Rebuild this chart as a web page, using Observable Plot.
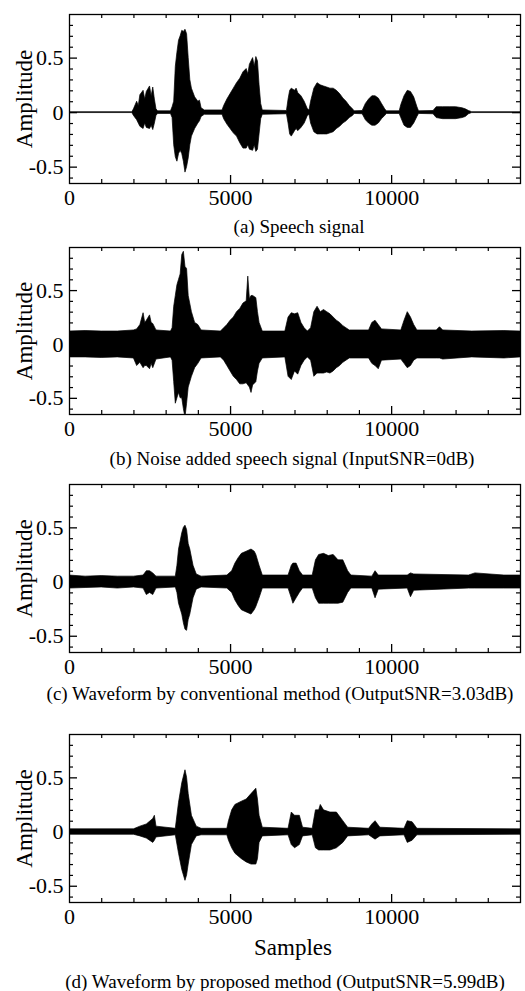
<!DOCTYPE html>
<html><head><meta charset="utf-8">
<script src="https://cdn.jsdelivr.net/npm/d3@7"></script>
<script src="https://cdn.jsdelivr.net/npm/@observablehq/plot@0.6"></script>
<style>
body{margin:0;background:#fff;}
#chart{width:525px;height:991px;position:relative;overflow:hidden;background:#fff;}
#chart svg{display:block;}
#chart svg, #chart svg g, #chart svg text{font-family:'Liberation Serif','Times New Roman',Times,serif !important;font-variant:normal !important;}
</style></head><body><div id="chart"></div>
<script>
// ---------- tick values / labels ----------
const xTickLabels = [0, 5000, 10000];
const xMinorTicks = [1000, 2000, 3000, 4000, 6000, 7000, 8000, 9000, 11000, 12000, 13000];
const xMajorTicks = [5000, 10000];
const yTickLabels = [-0.5, 0, 0.5];
const yMinorTicks = [-0.6, -0.4, -0.3, -0.2, -0.1, 0.1, 0.2, 0.3, 0.4, 0.6, 0.7, 0.8];
const yMajorTicks = [-0.5, 0, 0.5];
const yLabel = "Amplitude";
const xLabel = "Samples";
const captions = [
  "(a) Speech signal",
  "(b) Noise added speech signal (InputSNR=0dB)",
  "(c) Waveform by conventional method (OutputSNR=3.03dB)",
  "(d) Waveform by proposed method (OutputSNR=5.99dB)"
];

// ---------- (a) Speech signal: envelope (upper / lower) ----------
const aSamples = [0,1950,2000,2100,2150,2200,2300,2350,2400,2500,2550,2600,2650,2700,2750,3150,3200,3250,3300,3350,3400,3450,3500,3550,3600,3650,3700,3750,3800,3900,4000,4050,4100,4200,4750,4800,4900,5000,5100,5200,5300,5400,5500,5550,5600,5700,5750,5800,5850,5900,5950,6000,6750,6800,6850,6900,7000,7050,7100,7200,7300,7400,7450,7500,7600,7700,7800,7900,8000,8100,8200,8300,8400,8500,8600,8700,8800,8850,9100,9200,9300,9400,9500,9600,9700,9800,9850,10250,10300,10400,10500,10600,10700,10800,10850,11300,11400,11600,11800,12000,12200,12300,12400,12500,14000];
const aUpper = [0.004,0.004,0.03,0.1,0.06,0.16,0.2,0.12,0.19,0.24,0.15,0.23,0.12,0.03,0.012,0.012,0.05,0.1,0.42,0.55,0.66,0.7,0.75,0.74,0.76,0.72,0.5,0.3,0.22,0.14,0.1,0.11,0.04,0.02,0.02,0.06,0.12,0.17,0.22,0.27,0.31,0.37,0.4,0.35,0.44,0.5,0.42,0.51,0.47,0.25,0.08,0.02,0.015,0.12,0.2,0.22,0.2,0.22,0.18,0.15,0.1,0.03,0.02,0.1,0.22,0.27,0.25,0.24,0.23,0.22,0.22,0.2,0.17,0.13,0.1,0.06,0.03,0.012,0.015,0.08,0.12,0.15,0.15,0.13,0.08,0.03,0.012,0.012,0.07,0.15,0.2,0.19,0.14,0.05,0.012,0.015,0.05,0.05,0.05,0.05,0.04,0.03,0.015,0.004,0.004];
const aLower = [-0.004,-0.004,-0.03,-0.07,-0.1,-0.13,-0.15,-0.1,-0.14,-0.15,-0.12,-0.16,-0.1,-0.03,-0.012,-0.012,-0.05,-0.3,-0.41,-0.45,-0.38,-0.35,-0.38,-0.45,-0.55,-0.5,-0.42,-0.3,-0.22,-0.15,-0.1,-0.08,-0.04,-0.02,-0.02,-0.06,-0.11,-0.15,-0.19,-0.22,-0.28,-0.33,-0.33,-0.3,-0.34,-0.35,-0.3,-0.36,-0.34,-0.2,-0.06,-0.02,-0.015,-0.1,-0.2,-0.22,-0.17,-0.15,-0.17,-0.14,-0.1,-0.03,-0.02,-0.1,-0.18,-0.2,-0.2,-0.2,-0.2,-0.19,-0.18,-0.15,-0.13,-0.1,-0.08,-0.05,-0.03,-0.012,-0.015,-0.07,-0.1,-0.12,-0.12,-0.1,-0.06,-0.03,-0.012,-0.012,-0.05,-0.12,-0.14,-0.14,-0.1,-0.04,-0.012,-0.015,-0.05,-0.06,-0.06,-0.06,-0.05,-0.04,-0.015,-0.004,-0.004];

// ---------- (b) Noise added speech signal ----------
const bSamples = [0,500,1000,1500,2000,2100,2200,2300,2350,2400,2500,2550,2600,2700,3150,3200,3250,3300,3350,3400,3450,3500,3550,3600,3650,3700,3800,3900,4000,4100,4700,4800,4900,5000,5100,5200,5300,5400,5500,5550,5600,5650,5700,5800,5850,5900,6000,6700,6800,6900,7000,7100,7200,7300,7400,7500,7600,7700,7800,7900,8000,8100,8200,8300,8400,8500,8700,9300,9400,9500,9600,9700,10300,10400,10500,10600,10700,10800,11400,11500,11600,12500,13500,14000];
const bUpper = [0.12,0.125,0.12,0.12,0.13,0.14,0.18,0.29,0.2,0.22,0.27,0.2,0.19,0.13,0.12,0.15,0.35,0.45,0.55,0.6,0.65,0.83,0.86,0.72,0.7,0.45,0.3,0.2,0.18,0.13,0.12,0.15,0.18,0.22,0.25,0.3,0.33,0.38,0.4,0.63,0.42,0.45,0.45,0.43,0.3,0.2,0.12,0.12,0.25,0.29,0.28,0.29,0.2,0.15,0.12,0.15,0.3,0.35,0.3,0.32,0.3,0.28,0.25,0.22,0.2,0.17,0.13,0.13,0.2,0.22,0.18,0.14,0.13,0.22,0.3,0.25,0.18,0.13,0.13,0.16,0.13,0.12,0.125,0.12];
const bLower = [-0.12,-0.12,-0.125,-0.12,-0.13,-0.2,-0.17,-0.22,-0.2,-0.2,-0.23,-0.18,-0.22,-0.14,-0.12,-0.15,-0.35,-0.55,-0.5,-0.45,-0.5,-0.5,-0.6,-0.68,-0.55,-0.4,-0.3,-0.22,-0.18,-0.13,-0.12,-0.15,-0.2,-0.25,-0.3,-0.33,-0.37,-0.37,-0.36,-0.38,-0.4,-0.45,-0.38,-0.35,-0.25,-0.18,-0.13,-0.12,-0.3,-0.33,-0.25,-0.28,-0.2,-0.15,-0.12,-0.15,-0.3,-0.27,-0.27,-0.27,-0.26,-0.27,-0.25,-0.22,-0.2,-0.17,-0.13,-0.13,-0.18,-0.2,-0.23,-0.15,-0.14,-0.18,-0.22,-0.2,-0.15,-0.13,-0.13,-0.13,-0.14,-0.12,-0.13,-0.12];

// ---------- (c) Conventional method ----------
const cSamples = [0,500,1000,1500,2000,2300,2400,2500,2600,2700,3300,3350,3400,3500,3550,3600,3650,3700,3750,3850,3950,4100,4900,5050,5150,5250,5350,5500,5650,5750,5800,5900,6000,6800,6900,6950,7050,7150,7250,7550,7650,7750,7900,8050,8200,8350,8500,8650,8750,9400,9500,9600,10500,10600,10700,12400,12600,13500,14000];
const cUpper = [0.06,0.05,0.055,0.05,0.05,0.06,0.1,0.1,0.08,0.05,0.05,0.15,0.3,0.45,0.5,0.52,0.48,0.35,0.3,0.15,0.07,0.05,0.06,0.1,0.17,0.22,0.26,0.28,0.3,0.28,0.25,0.15,0.06,0.06,0.15,0.17,0.17,0.1,0.06,0.06,0.2,0.25,0.26,0.24,0.25,0.2,0.2,0.1,0.06,0.05,0.1,0.06,0.06,0.08,0.07,0.06,0.08,0.06,0.06];
const cLower = [-0.06,-0.055,-0.05,-0.06,-0.05,-0.06,-0.12,-0.1,-0.12,-0.06,-0.05,-0.1,-0.2,-0.3,-0.38,-0.44,-0.45,-0.35,-0.3,-0.15,-0.07,-0.05,-0.06,-0.1,-0.17,-0.22,-0.26,-0.28,-0.3,-0.26,-0.23,-0.15,-0.06,-0.06,-0.15,-0.2,-0.15,-0.1,-0.06,-0.06,-0.15,-0.2,-0.2,-0.2,-0.2,-0.2,-0.19,-0.1,-0.06,-0.06,-0.15,-0.07,-0.06,-0.14,-0.08,-0.06,-0.06,-0.06,-0.06];

// ---------- (d) Proposed method ----------
const dSamples = [0,2000,2200,2400,2600,2650,2700,3300,3400,3500,3600,3650,3700,3800,3950,4100,4900,4950,5050,5150,5350,5500,5650,5800,5850,5900,6000,6800,6900,7000,7150,7250,7550,7650,7750,7800,7900,8100,8300,8500,8650,9300,9400,9500,9650,10400,10500,10650,10800,14000];
const dUpper = [0.025,0.025,0.05,0.07,0.12,0.15,0.05,0.03,0.27,0.45,0.57,0.5,0.35,0.15,0.05,0.03,0.03,0.1,0.2,0.25,0.28,0.3,0.35,0.4,0.3,0.15,0.04,0.03,0.18,0.15,0.15,0.04,0.03,0.2,0.2,0.25,0.2,0.18,0.18,0.1,0.04,0.03,0.07,0.1,0.04,0.03,0.1,0.09,0.03,0.025];
const dLower = [-0.025,-0.025,-0.04,-0.06,-0.1,-0.08,-0.05,-0.03,-0.2,-0.35,-0.45,-0.4,-0.3,-0.12,-0.04,-0.03,-0.03,-0.08,-0.15,-0.2,-0.25,-0.28,-0.3,-0.3,-0.25,-0.1,-0.04,-0.03,-0.12,-0.15,-0.12,-0.04,-0.03,-0.15,-0.17,-0.17,-0.17,-0.17,-0.15,-0.1,-0.04,-0.03,-0.05,-0.07,-0.04,-0.03,-0.1,-0.08,-0.03,-0.025];

const toRows = (s, u, l) => s.map((x, i) => ({s: x, hi: u[i], lo: l[i]}));
const series = [
  toRows(aSamples, aUpper, aLower),
  toRows(bSamples, bUpper, bLower),
  toRows(cSamples, cUpper, cLower),
  toRows(dSamples, dUpper, dLower)
];

// layout per panel (pixels)
const layout = [
  {mt: 14, inner: 169, mb: 53, capDy: 43, capDx: 4},
  {mt: 11, inner: 167, mb: 56, capDy: 44, capDx: -3},
  {mt: 14, inner: 168, mb: 68, capDy: 41, capDx: -15},
  {mt: 14, inner: 168, mb: 89, capDy: 79, capDx: -10}
];

const W = 525, ML = 69, MR = 5;
const innerW = W - ML - MR;
const font = "'Liberation Serif', 'Times New Roman', Times, serif";
const root = document.getElementById("chart");

series.forEach((rows, i) => {
  const L = layout[i];
  const marks = [
    Plot.areaY(rows, {x: "s", y1: "lo", y2: "hi", fill: "black", stroke: "black", strokeWidth: 0.7, curve: "linear", clip: true}),
    Plot.frame({stroke: "black", strokeWidth: 1.3}),
    // inward tick marks: top / bottom
    Plot.tickX(xMinorTicks, {x: d => d, insetBottom: L.inner - 4, strokeWidth: 1.2}),
    Plot.tickX(xMinorTicks, {x: d => d, insetTop: L.inner - 4, strokeWidth: 1.2}),
    Plot.tickX(xMajorTicks, {x: d => d, insetBottom: L.inner - 8, strokeWidth: 1.3}),
    Plot.tickX(xMajorTicks, {x: d => d, insetTop: L.inner - 8, strokeWidth: 1.3}),
    // inward tick marks: left / right
    Plot.tickY(yMinorTicks, {y: d => d, insetRight: innerW - 4, strokeWidth: 1.2}),
    Plot.tickY(yMinorTicks, {y: d => d, insetLeft: innerW - 4, strokeWidth: 1.2}),
    Plot.tickY(yMajorTicks, {y: d => d, insetRight: innerW - 8, strokeWidth: 1.3}),
    Plot.tickY(yMajorTicks, {y: d => d, insetLeft: innerW - 8, strokeWidth: 1.3}),
    Plot.axisX(xTickLabels, {tickSize: 0, tickPadding: 6, fontSize: 22, fontFamily: font, tickFormat: d => String(d), label: null}),
    Plot.axisY(yTickLabels, {tickSize: 0, tickPadding: 6, fontSize: 22, fontFamily: font, tickFormat: d => String(d), label: null}),
    Plot.text([yLabel], {text: d => d, frameAnchor: "left", textAnchor: "middle", rotate: -90, dx: -45, fontSize: 23, fontFamily: font, lineAnchor: "middle", fill: "black"}),
    Plot.text([captions[i]], {text: d => d, frameAnchor: "bottom", textAnchor: "middle", dy: L.capDy, dx: L.capDx, fontSize: 19, fontFamily: font, lineAnchor: "middle", fill: "black"})
  ];
  if (i === 3) {
    marks.push(Plot.text([xLabel], {text: d => d, frameAnchor: "bottom", textAnchor: "middle", dy: 45, dx: -2, fontSize: 23, fontFamily: font, lineAnchor: "middle", fill: "black"}));
  }
  const chart = Plot.plot({
    width: W,
    height: L.mt + L.inner + L.mb,
    marginLeft: ML,
    marginRight: MR,
    marginTop: L.mt,
    marginBottom: L.mb,
    style: {fontFamily: font, color: "black", background: "white", overflow: "visible"},
    x: {domain: [0, 14000], axis: null},
    y: {domain: [-0.65, 0.9], axis: null},
    marks
  });
  root.appendChild(chart);
});
</script>
</body></html>
